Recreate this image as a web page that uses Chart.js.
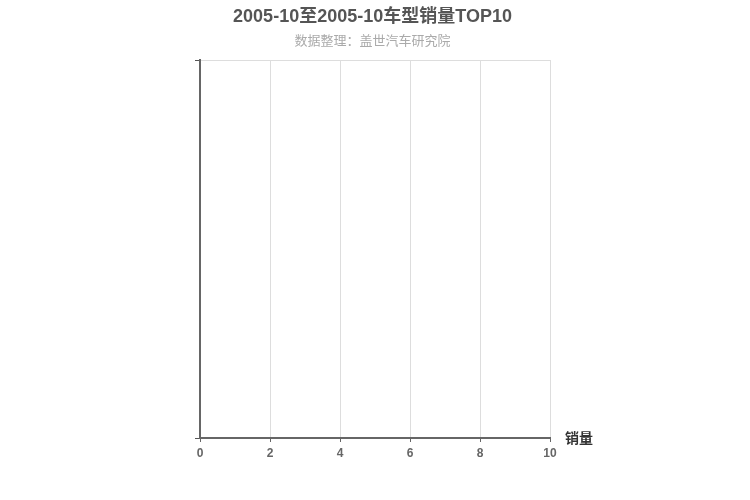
<!DOCTYPE html>
<html>
<head>
<meta charset="utf-8">
<script src="https://cdn.jsdelivr.net/npm/chart.js@4/dist/chart.umd.min.js"></script>
<style>
  html, body { margin: 0; padding: 0; background: #fff; }
  #wrap { width: 750px; height: 500px; }
</style>
</head>
<body>
<div id="wrap"><canvas id="c" width="750" height="500"></canvas></div>
<script>
const titleText = '2005-10至2005-10车型销量TOP10';
const subtitleText = '数据整理：盖世汽车研究院';
const axisName = '销量';
const categories = [];
const salesValues = [];
const xMin = 0;
const xMax = 10;
const xStep = 2;

const FONT = "'Liberation Sans', 'Noto Sans CJK SC', sans-serif";

const axisNamePlugin = {
  id: 'axisName',
  afterDraw(chart) {
    const ctx = chart.ctx;
    const area = chart.chartArea;
    ctx.save();
    ctx.font = 'bold 14px ' + FONT;
    ctx.fillStyle = '#333';
    ctx.textAlign = 'left';
    ctx.textBaseline = 'middle';
    ctx.fillText(axisName, area.right + 15, area.bottom + 1);
    ctx.restore();
  }
};

new Chart(document.getElementById('c'), {
  type: 'bar',
  data: {
    labels: categories,
    datasets: [{ label: axisName, data: salesValues, backgroundColor: '#5b9bd5' }]
  },
  plugins: [axisNamePlugin],
  options: {
    responsive: false,
    animation: false,
    indexAxis: 'y',
    layout: { padding: { left: 195, right: 200, top: 0, bottom: 35.6 } },
    plugins: {
      legend: { display: false },
      tooltip: { enabled: false },
      title: {
        display: true,
        text: titleText,
        color: '#555',
        font: { family: FONT, size: 18, weight: 'bold', lineHeight: 1.2 },
        padding: { top: 6, bottom: 2 }
      },
      subtitle: {
        display: true,
        text: subtitleText,
        color: '#aaa',
        font: { family: FONT, size: 13, lineHeight: 1.2 },
        padding: { top: 3.6, bottom: 11.2 }
      }
    },
    scales: {
      x: {
        type: 'linear',
        min: xMin,
        max: xMax,
        ticks: {
          stepSize: xStep,
          color: '#666',
          padding: 4,
          font: { family: FONT, size: 12, weight: 'bold', lineHeight: 1.2 }
        },
        grid: { color: '#ddd', tickColor: '#666', tickLength: 4, lineWidth: 1 },
        border: { color: '#666', width: 2 }
      },
      y: {
        type: 'linear',
        min: 0,
        max: 1,
        offset: false,
        afterBuildTicks(scale) {
          scale.ticks = [{ value: 0 }, { value: 1 }];
        },
        ticks: { display: false },
        grid: { offset: false, color: '#ddd', tickColor: '#555', tickLength: 5, lineWidth: 1 },
        border: { color: '#666', width: 2 }
      }
    }
  }
});
</script>
</body>
</html>
